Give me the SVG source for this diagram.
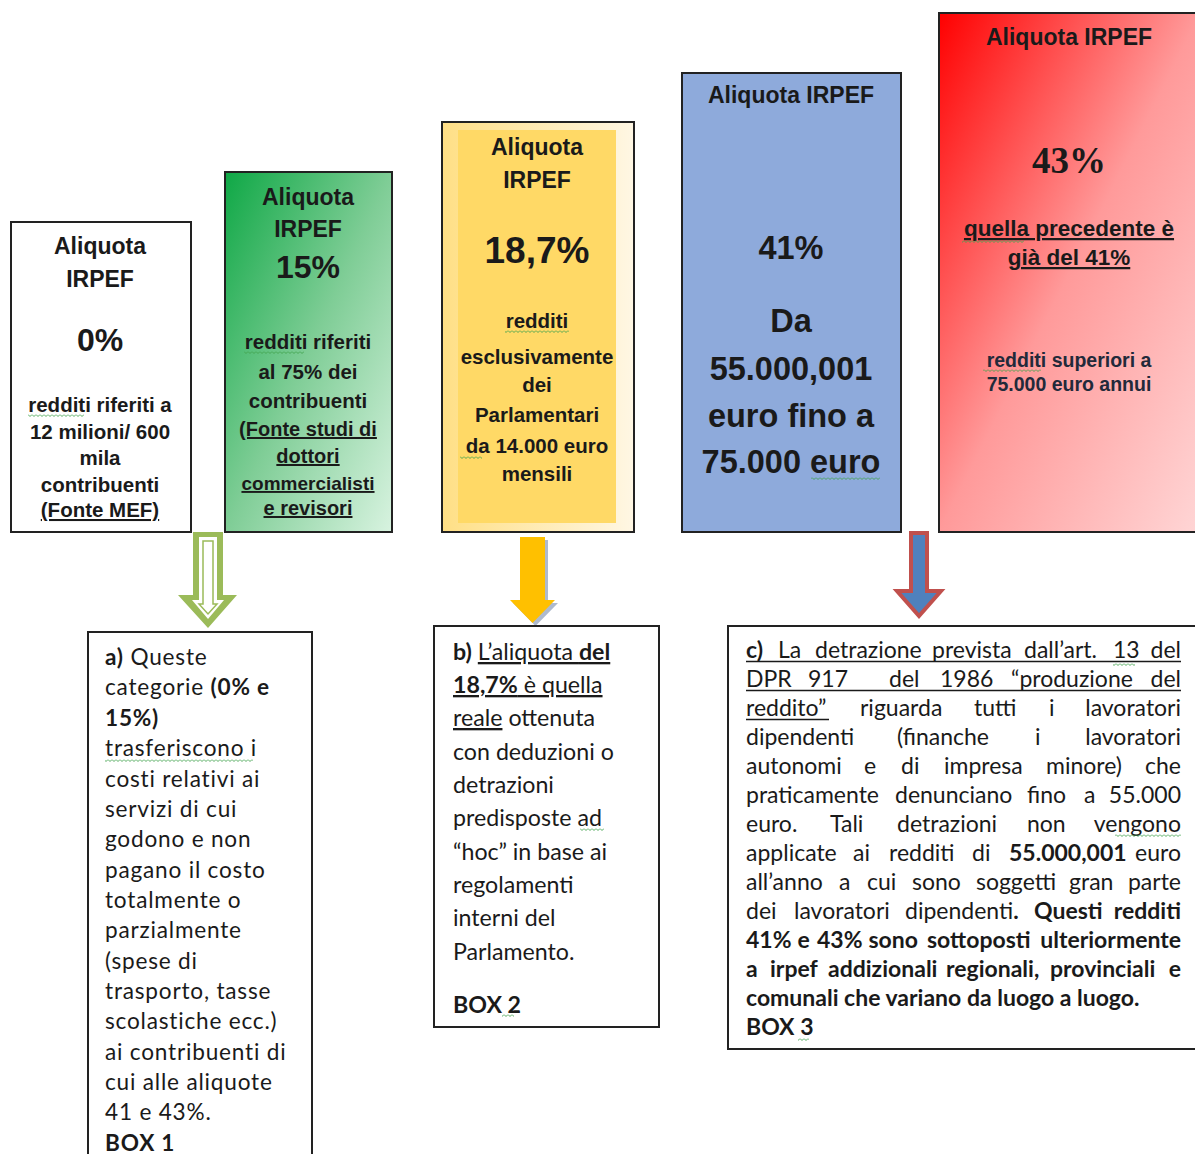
<svg xmlns="http://www.w3.org/2000/svg" width="1195" height="1154" viewBox="0 0 1195 1154">
<defs>
<style>
.tb{font-family:"Liberation Sans",Arial,sans-serif;font-weight:bold;fill:#1a1a1a;text-anchor:middle}
.serif{font-family:"Liberation Serif","Times New Roman",serif}
.bt{font-family:Lato,"Open Sans",sans-serif;fill:#1a1a1a;font-size:22.4px}
.ba{letter-spacing:0.8px;font-size:22.6px}
.bb{font-size:23.2px}
.bc{font-size:23px}
.b{font-weight:bold}
.u{text-decoration:underline}
.box{stroke:#222;stroke-width:2}
.wv{fill:url(#wv)}
.ul{stroke:#1a1a1a;stroke-width:1.3}
</style>
<linearGradient id="gGreen" x1="0" y1="0" x2="1" y2="1">
<stop offset="0" stop-color="#0fa846"/>
<stop offset="0.5" stop-color="#7fcd96"/>
<stop offset="1" stop-color="#d8f3e0"/>
</linearGradient>
<linearGradient id="gYel" x1="0" y1="0" x2="1" y2="0">
<stop offset="0" stop-color="#ffdf85"/>
<stop offset="1" stop-color="#fff7e4"/>
</linearGradient>
<linearGradient id="gRed" x1="0" y1="0" x2="1" y2="1">
<stop offset="0" stop-color="#ff0000"/>
<stop offset="0.5" stop-color="#ff9a9a"/>
<stop offset="1" stop-color="#ffd6d6"/>
</linearGradient>
<pattern id="wv" width="4" height="3" patternUnits="userSpaceOnUse">
<path d="M0 0.5 L2 2.5 L4 0.5" stroke="#3fa34d" stroke-width="0.9" fill="none"/>
</pattern>
</defs>
<rect width="1195" height="1154" fill="#ffffff"/>

<g id="box-0">
<rect class="box" x="11" y="222" width="180" height="310" fill="#ffffff"/>
<text class="tb" x="100" y="254" font-size="23">Aliquota</text>
<text class="tb" x="100" y="287" font-size="23">IRPEF</text>
<text class="tb" x="100" y="351" font-size="32">0%</text>
<text class="tb" x="100" y="412" font-size="20.5">redditi riferiti a</text>
<text class="tb" x="100" y="439" font-size="20.5">12 milioni/ 600</text>
<text class="tb" x="100" y="465" font-size="20.5">mila</text>
<text class="tb" x="100" y="492" font-size="20.5">contribuenti</text>
<text class="tb u" x="100" y="517" font-size="20.5">(Fonte MEF)</text>
<rect class="wv" x="28" y="414" width="56" height="3"/>
</g>

<g id="box-15">
<rect class="box" x="225" y="172" width="167" height="360" fill="url(#gGreen)"/>
<text class="tb" x="308" y="205" font-size="23">Aliquota</text>
<text class="tb" x="308" y="237" font-size="23">IRPEF</text>
<text class="tb" x="308" y="278" font-size="32">15%</text>
<text class="tb" x="308" y="349" font-size="20.5">redditi riferiti</text>
<text class="tb" x="308" y="379" font-size="20.5">al 75% dei</text>
<text class="tb" x="308" y="408" font-size="20.5">contribuenti</text>
<text class="tb u" x="308" y="436" font-size="20">(Fonte studi di</text>
<text class="tb u" x="308" y="463" font-size="20">dottori</text>
<text class="tb u" x="308" y="490" font-size="19">commercialisti</text>
<text class="tb u" x="308" y="515" font-size="20">e revisori</text>
<rect class="wv" x="244" y="351" width="60" height="3"/>
</g>

<g id="box-187">
<rect class="box" x="442" y="122" width="192" height="410" fill="url(#gYel)"/>
<rect x="458" y="130" width="158" height="393" fill="#ffd966"/>
<text class="tb" x="537" y="155" font-size="23">Aliquota</text>
<text class="tb" x="537" y="188" font-size="23">IRPEF</text>
<text class="tb" x="537" y="263" font-size="37">18,7%</text>
<text class="tb" x="537" y="328" font-size="20.5">redditi</text>
<text class="tb" x="537" y="364" font-size="20.5">esclusivamente</text>
<text class="tb" x="537" y="392" font-size="20.5">dei</text>
<text class="tb" x="537" y="422" font-size="20.5">Parlamentari</text>
<text class="tb" x="537" y="453" font-size="20.5">da 14.000 euro</text>
<text class="tb" x="537" y="481" font-size="20.5">mensili</text>
<rect class="wv" x="505" y="330" width="64" height="3"/>
<rect class="wv" x="460" y="456" width="22" height="3"/>
</g>

<g id="box-41">
<rect class="box" x="682" y="73" width="219" height="459" fill="#8eaadb"/>
<text class="tb" x="791" y="103" font-size="23">Aliquota IRPEF</text>
<text class="tb" x="791" y="259" font-size="32.5">41%</text>
<text class="tb" x="791" y="332" font-size="32.5">Da</text>
<text class="tb" x="791" y="380" font-size="32.5">55.000,001</text>
<text class="tb" x="791" y="427" font-size="32.5">euro fino a</text>
<text class="tb" x="791" y="473" font-size="32.5">75.000 euro</text>
<rect class="wv" x="811" y="477" width="69" height="3"/>
</g>

<g id="box-43">
<rect class="box" x="939" y="13" width="262" height="519" fill="url(#gRed)"/>
<text class="tb" x="1069" y="45" font-size="23">Aliquota IRPEF</text>
<text class="tb serif" x="1069" y="173" font-size="37">43%</text>
<text class="tb u" x="1069" y="236" font-size="22.5">quella precedente è</text>
<text class="tb u" x="1069" y="265" font-size="22.5">già del 41%</text>
<text class="tb" x="1069" y="367" font-size="19.5" style="fill:#222a3a">redditi superiori a</text>
<text class="tb" x="1069" y="391" font-size="19.5" style="fill:#222a3a">75.000 euro annui</text>
<rect class="wv" x="962" y="240" width="62" height="3"/>
<rect class="wv" x="983" y="369" width="58" height="3"/>
</g>

<g id="connectors">
<path d="M193,532 L223,532 L223,595 L237,595 L208,628 L178,595 L193,595 Z" fill="#9bbb59"/>
<path d="M199,537 L217,537 L217,600 L224,600 L208,619 L192,600 L199,600 Z" fill="#ffffff"/>
<path d="M203,541 L213,541 L213,604 L217,604 L208,614 L199,604 L203,604 Z" fill="none" stroke="#9bbb59" stroke-width="1.5"/>
<path d="M523,540 L548,540 L548,603 L558,603 L535.5,626 L513,603 L523,603 Z" fill="#9aa9c2" opacity="0.8"/>
<path d="M520,537 L545,537 L545,600 L555,600 L532.5,623 L510,600 L520,600 Z" fill="#ffc000"/>
<path d="M911,533 L927,533 L927,591 L941,591 L919,616 L897,591 L911,591 Z" fill="#4f81bd" stroke="#c0504d" stroke-width="4"/>
</g>

<g id="box-a">
<rect class="box" x="88" y="632" width="224" height="540" fill="#ffffff"/>
<text class="bt ba" x="105" y="665"><tspan class="b">a)</tspan> Queste</text>
<text class="bt ba" x="105" y="695">categorie <tspan class="b">(0% e</tspan></text>
<text class="bt ba b" x="105" y="726">15%)</text>
<text class="bt ba" x="105" y="756">trasferiscono i</text>
<text class="bt ba" x="105" y="787">costi relativi ai</text>
<text class="bt ba" x="105" y="817">servizi di cui</text>
<text class="bt ba" x="105" y="847">godono e non</text>
<text class="bt ba" x="105" y="878">pagano il costo</text>
<text class="bt ba" x="105" y="908">totalmente o</text>
<text class="bt ba" x="105" y="938">parzialmente</text>
<text class="bt ba" x="105" y="969">(spese di</text>
<text class="bt ba" x="105" y="999">trasporto, tasse</text>
<text class="bt ba" x="105" y="1029">scolastiche ecc.)</text>
<text class="bt ba" x="105" y="1060">ai contribuenti di</text>
<text class="bt ba" x="105" y="1090">cui alle aliquote</text>
<text class="bt ba" x="105" y="1120">41 e 43%.</text>
<text class="bt ba b" x="105" y="1151">BOX 1</text>
<rect class="wv" x="105" y="759" width="148" height="3"/>
</g>

<g id="box-b">
<rect class="box" x="434" y="626" width="225" height="401" fill="#ffffff"/>
<text class="bt bb" x="453" y="660"><tspan class="b">b)</tspan> <tspan class="u">L’aliquota <tspan class="b">del</tspan></tspan></text>
<text class="bt bb u" x="453" y="693"><tspan class="b">18,7%</tspan> è quella</text>
<text class="bt bb" x="453" y="726"><tspan class="u">reale</tspan> ottenuta</text>
<text class="bt bb" x="453" y="760">con deduzioni  o</text>
<text class="bt bb" x="453" y="793">detrazioni</text>
<text class="bt bb" x="453" y="826">predisposte ad</text>
<text class="bt bb" x="453" y="860">“hoc” in base ai</text>
<text class="bt bb" x="453" y="893">regolamenti</text>
<text class="bt bb" x="453" y="926">interni del</text>
<text class="bt bb" x="453" y="960">Parlamento.</text>
<text class="bt bb b" x="453" y="1013">BOX 2</text>
<rect class="wv" x="580" y="828" width="24" height="3"/>
<rect class="wv" x="502" y="1014" width="12" height="3"/>
</g>

<g id="box-c">
<rect class="box" x="728" y="626" width="480" height="423" fill="#ffffff"/>
<text class="bt bc" y="658"><tspan class="b" x="746">c)</tspan><tspan x="778">La</tspan><tspan x="815">detrazione</tspan><tspan x="932">prevista</tspan><tspan x="1024">dall’art.</tspan><tspan x="1113">13</tspan><tspan x="1181" text-anchor="end">del</tspan></text>
<line class="ul" x1="746" y1="661.5" x2="1181" y2="661.5"/>
<text class="bt bc" y="687"><tspan x="746">DPR</tspan><tspan x="808">917</tspan><tspan x="889">del</tspan><tspan x="940">1986</tspan><tspan x="1011">“produzione</tspan><tspan x="1181" text-anchor="end">del</tspan></text>
<line class="ul" x1="746" y1="690.5" x2="1181" y2="690.5"/>
<text class="bt bc" y="716"><tspan x="746">reddito”</tspan><tspan x="860">riguarda</tspan><tspan x="974">tutti</tspan><tspan x="1049">i</tspan><tspan x="1181" text-anchor="end">lavoratori</tspan></text>
<line class="ul" x1="746" y1="719.5" x2="829" y2="719.5"/>
<text class="bt bc" y="745"><tspan x="746">dipendenti</tspan><tspan x="897">(finanche</tspan><tspan x="1035">i</tspan><tspan x="1181" text-anchor="end">lavoratori</tspan></text>
<text class="bt bc" y="774"><tspan x="746">autonomi</tspan><tspan x="864">e</tspan><tspan x="901">di</tspan><tspan x="944">impresa</tspan><tspan x="1046">minore)</tspan><tspan x="1181" text-anchor="end">che</tspan></text>
<text class="bt bc" y="803"><tspan x="746">praticamente</tspan><tspan x="895">denunciano</tspan><tspan x="1027">fino</tspan><tspan x="1084">a</tspan><tspan x="1181" text-anchor="end">55.000</tspan></text>
<text class="bt bc" y="832"><tspan x="746">euro.</tspan><tspan x="830">Tali</tspan><tspan x="897">detrazioni</tspan><tspan x="1027">non</tspan><tspan x="1181" text-anchor="end">vengono</tspan></text>
<text class="bt bc" y="861"><tspan x="746">applicate</tspan><tspan x="853">ai</tspan><tspan x="889">redditi</tspan><tspan x="972">di</tspan><tspan class="b" x="1009">55.000,001</tspan><tspan x="1181" text-anchor="end">euro</tspan></text>
<text class="bt bc" y="890"><tspan x="746">all’anno</tspan><tspan x="839">a</tspan><tspan x="867">cui</tspan><tspan x="912">sono</tspan><tspan x="976">soggetti</tspan><tspan x="1069">gran</tspan><tspan x="1181" text-anchor="end">parte</tspan></text>
<text class="bt bc" y="919"><tspan x="746">dei</tspan><tspan x="794">lavoratori</tspan><tspan x="905">dipendenti<tspan class="b">.</tspan></tspan><tspan class="b" x="1034">Questi</tspan><tspan class="b" x="1181" text-anchor="end">redditi</tspan></text>
<text class="bt bc b" y="948"><tspan x="746">41%</tspan><tspan x="797.5">e</tspan><tspan x="817">43%</tspan><tspan x="868.5">sono</tspan><tspan x="927">sottoposti</tspan><tspan x="1181" text-anchor="end">ulteriormente</tspan></text>
<text class="bt bc b" y="977"><tspan x="746">a</tspan><tspan x="770">irpef</tspan><tspan x="828">addizionali</tspan><tspan x="946">regionali,</tspan><tspan x="1050">provinciali</tspan><tspan x="1181" text-anchor="end">e</tspan></text>
<text class="bt bc b" x="746" y="1006">comunali che variano da luogo a luogo.</text>
<text class="bt bc b" x="746" y="1035">BOX 3</text>
<rect class="wv" x="1113" y="663" width="22" height="3"/>
<rect class="wv" x="1115" y="834" width="66" height="3"/>
<rect class="wv" x="798" y="1038" width="11" height="3"/>
</g>
</svg>
